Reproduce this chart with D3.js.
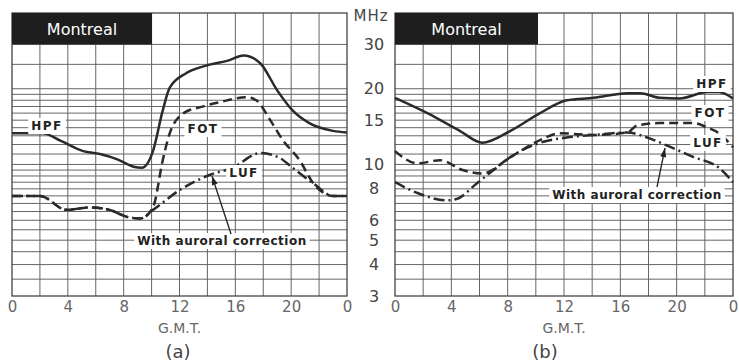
<!DOCTYPE html>
<html lang="en">
<head>
    <meta charset="UTF-8">
    <title>Montreal HPF / FOT / LUF</title>
    <script src="https://d3js.org/d3.v7.min.js"></script>
    <style>
        body { margin: 0; background: #fff; }
        svg { display: block; font-family: "DejaVu Sans", "Liberation Sans", sans-serif; }
        .tag { font-weight: bold; font-size: 12px; fill: #222; letter-spacing: 1.5px; }
        .note { font-weight: bold; font-size: 12px; fill: #222; letter-spacing: 0.5px; }
    </style>
</head>
<body>
    <div id="chart"></div>
    <script>
        // hours (G.M.T.) and frequencies (MHz)
        const hourTicks = [0, 4, 8, 12, 16, 20, 24];
        const freqTicks = [30, 20, 15, 10, 8, 6, 5, 4, 3];
        const gridFreqs = [30, 25, 20, 19, 18, 17, 16, 15, 14, 13, 12, 11, 10,
                           9.5, 9, 8.5, 8, 7.5, 7, 6.5, 6, 5.5, 5, 4.5, 4, 3.5];

        // panel (a)
        const hpfA = [[0, 13.3], [2.2, 13.3], [3.5, 12.4], [5.1, 11.3], [6.3, 11.0], [7.5, 10.5],
                      [8.7, 9.8], [9.3, 9.7], [10.1, 11.3], [10.8, 16.4], [11.3, 20.2], [12.5, 23.1],
                      [13.9, 24.7], [15.4, 25.8], [16.6, 27.1], [17.8, 25.2], [19, 19.7], [20.1, 16.4],
                      [21.3, 14.6], [23, 13.6], [24, 13.4]];
        const fotA = [[0, 7.5], [2, 7.5], [3.9, 6.6], [5.6, 6.75], [7, 6.6], [8.2, 6.2], [9.2, 6.1],
                      [10.1, 6.75], [10.8, 10.4], [11.3, 13.3], [12.3, 16], [13.5, 16.9], [14.9, 17.7],
                      [16.8, 18.5], [17.5, 18.0], [18.5, 15], [19.4, 12.5], [20.6, 10.4], [21.6, 8.4],
                      [23, 7.5], [24, 7.5]];
        const lufA = [[0, 7.5], [2, 7.5], [3.9, 6.6], [5.6, 6.75], [7, 6.6], [8.2, 6.2], [9.2, 6.1],
                      [10.1, 6.6], [12, 7.9], [14.2, 9.1], [15.8, 9.7], [17.8, 11.1], [19.2, 10.6],
                      [20.1, 9.7], [21.6, 8.4], [23, 7.5], [24, 7.5]];

        // panel (b)
        const hpfB = [[0, 18.4], [2.3, 16], [4.6, 13.6], [6.2, 12.2], [8.2, 13.6], [10.3, 16],
                      [12.2, 18], [14.1, 18.4], [16.5, 19.2], [17.4, 19.2], [18.8, 18.4], [20.2, 18.3],
                      [22.2, 19.4], [23, 19.4], [24, 18.3]];
        const fotB = [[0, 11.3], [1.6, 10.1], [3.2, 10.4], [4.8, 9.5], [6.2, 9.2], [8.2, 10.7],
                      [10.3, 12.5], [11.7, 13.3], [14.1, 13.1], [16.5, 13.4], [17.2, 14.3], [18.8, 14.6],
                      [21.2, 14.6], [22.2, 14], [23, 13.3], [24, 11.7]];
        const lufB = [[0, 8.5], [1.6, 7.7], [3.7, 7.2], [4.4, 7.3], [5.8, 8.4], [7, 9.5], [8.2, 10.7],
                      [10.3, 12.2], [12.2, 12.8], [14.1, 13.1], [16.5, 13.4], [17.9, 12.8], [19.3, 11.9],
                      [21.2, 10.7], [23, 9.7], [24, 8.5]];

        const width = 739, height = 362;
        const gridTop = 13, gridBottom = 296;

        const svg = d3.select('#chart').append('svg')
            .attr('width', width)
            .attr('height', height);

        const y = d3.scaleLog().domain([3, 40]).range([gridBottom, gridTop]);

        const panels = [
            { left: 12, right: 347, hpf: hpfA, fot: fotA, luf: lufA, name: '(a)', nameX: 178, boxW: 140,
              tags: { hpf: [47, 126], fot: [203, 129], luf: [244, 173] },
              note: [222, 241], arrow: [[231, 234], [212, 176]] },
            { left: 395, right: 733, hpf: hpfB, fot: fotB, luf: lufB, name: '(b)', nameX: 545, boxW: 143,
              tags: { hpf: [712, 84], fot: [710, 113], luf: [708, 143] },
              note: [637, 195], arrow: [[657, 187], [665, 148]] }
        ];

        function label(g, text, cx, cy, cls) {
            const t = g.append('text')
                .attr('class', cls)
                .attr('x', cx)
                .attr('y', cy)
                .attr('text-anchor', 'middle')
                .attr('dominant-baseline', 'central')
                .text(text);
            const bb = t.node().getBBox();
            g.insert('rect', function() { return t.node(); })
                .attr('x', bb.x - 3).attr('y', bb.y - 1)
                .attr('width', bb.width + 6).attr('height', bb.height + 2)
                .attr('fill', '#fff');
        }

        panels.forEach(p => {
            const x = d3.scaleLinear().domain([0, 24]).range([p.left, p.right]);
            const g = svg.append('g');

            // grid
            g.selectAll('.hgrid').data(gridFreqs).enter().append('line')
                .attr('x1', p.left).attr('x2', p.right)
                .attr('y1', d => y(d)).attr('y2', d => y(d))
                .attr('stroke', '#666').attr('stroke-width', 1);
            g.selectAll('.vgrid').data(d3.range(2, 24, 2)).enter().append('line')
                .attr('x1', d => x(d)).attr('x2', d => x(d))
                .attr('y1', gridTop).attr('y2', gridBottom)
                .attr('stroke', '#666').attr('stroke-width', 1);
            g.append('rect')
                .attr('x', p.left).attr('y', gridTop)
                .attr('width', p.right - p.left).attr('height', gridBottom - gridTop)
                .attr('fill', 'none').attr('stroke', '#444').attr('stroke-width', 1.3);

            // title box
            g.append('rect')
                .attr('x', p.left).attr('y', gridTop)
                .attr('width', p.boxW).attr('height', y(30) - gridTop)
                .attr('fill', '#1e1e1e');
            g.append('text')
                .attr('x', p.left + p.boxW / 2).attr('y', (gridTop + y(30)) / 2 + 1)
                .attr('text-anchor', 'middle').attr('dominant-baseline', 'central')
                .attr('fill', '#fff').attr('font-size', 16)
                .text('Montreal');

            // curves
            const line = d3.line()
                .x(d => x(d[0])).y(d => y(d[1]))
                .curve(d3.curveMonotoneX);
            g.append('path').datum(p.luf).attr('d', line)
                .attr('fill', 'none').attr('stroke', '#2a2a2a').attr('stroke-width', 2.5)
                .attr('stroke-dasharray', '11,4,2,4');
            g.append('path').datum(p.fot).attr('d', line)
                .attr('fill', 'none').attr('stroke', '#2a2a2a').attr('stroke-width', 2.5)
                .attr('stroke-dasharray', '9,5');
            g.append('path').datum(p.hpf).attr('d', line)
                .attr('fill', 'none').attr('stroke', '#2a2a2a').attr('stroke-width', 2.5);

            // tags
            label(g, 'HPF', p.tags.hpf[0], p.tags.hpf[1], 'tag');
            label(g, 'FOT', p.tags.fot[0], p.tags.fot[1], 'tag');
            label(g, 'LUF', p.tags.luf[0], p.tags.luf[1], 'tag');
            label(g, 'With auroral correction', p.note[0], p.note[1], 'note');

            // arrow
            const [a0, a1] = p.arrow;
            g.append('line')
                .attr('x1', a0[0]).attr('y1', a0[1]).attr('x2', a1[0]).attr('y2', a1[1])
                .attr('stroke', '#222').attr('stroke-width', 1.3);
            const ang = Math.atan2(a1[1] - a0[1], a1[0] - a0[0]);
            const hl = 9, hw = 3;
            const bx = a1[0] - hl * Math.cos(ang), by = a1[1] - hl * Math.sin(ang);
            g.append('path')
                .attr('d', `M${a1[0]},${a1[1]}L${bx - hw * Math.sin(ang)},${by + hw * Math.cos(ang)}L${bx + hw * Math.sin(ang)},${by - hw * Math.cos(ang)}Z`)
                .attr('fill', '#222');

            // x axis
            const ax = g.append('g')
                .attr('transform', `translate(0,${gridBottom})`)
                .call(d3.axisBottom(x).tickValues(hourTicks).tickSize(0).tickPadding(5).tickFormat(d => d % 24));
            ax.select('.domain').remove();
            ax.selectAll('text').attr('font-size', 15).attr('fill', '#666')
                .attr('font-family', '"DejaVu Sans", sans-serif');

            g.append('text')
                .attr('x', (p.left + p.right) / 2).attr('y', 333)
                .attr('text-anchor', 'middle').attr('font-size', 14).attr('fill', '#666')
                .text('G.M.T.');
            g.append('text')
                .attr('x', p.nameX).attr('y', 358)
                .attr('text-anchor', 'middle').attr('font-size', 18).attr('fill', '#444')
                .text(p.name);
        });

        // shared frequency labels between the panels
        svg.selectAll('.ylab').data(freqTicks).enter().append('text')
            .attr('x', 374).attr('y', d => y(d))
            .attr('text-anchor', 'middle').attr('dominant-baseline', 'central')
            .attr('font-size', 16).attr('fill', '#444')
            .text(d => d);
        svg.append('text')
            .attr('x', 371).attr('y', 16)
            .attr('text-anchor', 'middle').attr('dominant-baseline', 'central')
            .attr('font-size', 15).attr('letter-spacing', 1).attr('fill', '#444')
            .text('MHz');
    </script>
</body>
</html>
